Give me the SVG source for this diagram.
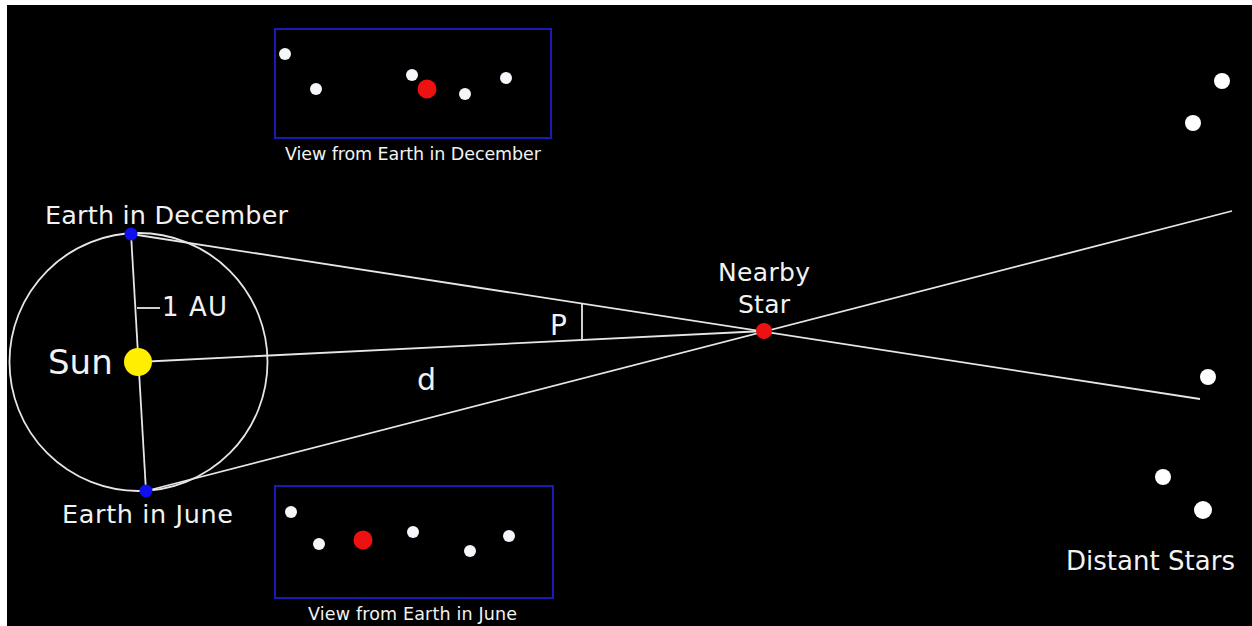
<svg xmlns="http://www.w3.org/2000/svg" width="1252" height="626" viewBox="0 0 1252 626">
<style>
.t{font-family:"DejaVu Sans","Verdana",sans-serif;fill:#f2f2f2}
.ln{stroke:#e6e6e6;stroke-width:1.8;fill:none}
.box{fill:none;stroke:#1a1ab4;stroke-width:2}
.ws{fill:#f4f6fa}
.rs{fill:#ee1111}
.es{fill:#1010ee}
</style>
<rect x="0" y="0" width="1252" height="626" fill="#ffffff"/>
<rect x="7" y="5" width="1245" height="621" fill="#000000"/>
<g id="connectors">
<line class="ln" x1="131" y1="234" x2="1200" y2="399"/>
<line class="ln" x1="146" y1="491" x2="1232" y2="211"/>
<line class="ln" x1="138" y1="362" x2="764" y2="331"/>
<line class="ln" x1="131" y1="234" x2="146" y2="491"/>
<line class="ln" x1="137" y1="308" x2="160" y2="308"/>
<line class="ln" x1="582" y1="304" x2="582" y2="340"/>
</g>
<g id="orbit">
<circle class="ln" cx="138.5" cy="362" r="129"/>
</g>
<g id="sun">
<circle cx="138" cy="362" r="14" fill="#ffee00"/>
<text class="t" x="48" y="374" font-size="34">Sun</text>
</g>
<g id="earth-december">
<circle class="es" cx="131" cy="234" r="6.5"/>
<text class="t" x="45" y="224" font-size="25.5" textLength="243" lengthAdjust="spacing">Earth in December</text>
</g>
<g id="earth-june">
<circle class="es" cx="146" cy="491" r="6.5"/>
<text class="t" x="62" y="523" font-size="25.5" textLength="171" lengthAdjust="spacing">Earth in June</text>
</g>
<g id="labels">
<text class="t" x="162" y="316" font-size="26" textLength="65" lengthAdjust="spacing">1 AU</text>
<text class="t" x="550" y="335" font-size="28">P</text>
<text class="t" x="417" y="390" font-size="30">d</text>
</g>
<g id="nearby-star">
<circle class="rs" cx="764" cy="331" r="8"/>
<text class="t" x="718" y="281" font-size="25" textLength="92" lengthAdjust="spacing">Nearby</text>
<text class="t" x="738" y="313" font-size="25" textLength="52" lengthAdjust="spacing">Star</text>
</g>
<g id="view-december">
<rect class="box" x="275" y="29" width="276" height="109"/>
<circle class="ws" cx="285" cy="54" r="6"/>
<circle class="ws" cx="316" cy="89" r="6"/>
<circle class="ws" cx="412" cy="75" r="6"/>
<circle class="rs" cx="427" cy="89" r="9.5"/>
<circle class="ws" cx="465" cy="94" r="6"/>
<circle class="ws" cx="506" cy="78" r="6"/>
<text class="t" x="285" y="160" font-size="17.5" textLength="256" lengthAdjust="spacing">View from Earth in December</text>
</g>
<g id="view-june">
<rect class="box" x="275" y="486" width="278" height="112"/>
<circle class="ws" cx="291" cy="512" r="6"/>
<circle class="ws" cx="319" cy="544" r="6"/>
<circle class="rs" cx="363" cy="540" r="9.5"/>
<circle class="ws" cx="413" cy="532" r="6"/>
<circle class="ws" cx="470" cy="551" r="6"/>
<circle class="ws" cx="509" cy="536" r="6"/>
<text class="t" x="308" y="620" font-size="17.5" textLength="209" lengthAdjust="spacing">View from Earth in June</text>
</g>
<g id="distant-stars">
<circle cx="1222" cy="81" r="8" fill="#ffffff"/>
<circle cx="1193" cy="123" r="8" fill="#ffffff"/>
<circle cx="1208" cy="377" r="8" fill="#ffffff"/>
<circle cx="1163" cy="477" r="8" fill="#ffffff"/>
<circle cx="1203" cy="510" r="9" fill="#ffffff"/>
<text class="t" x="1066" y="570" font-size="26" textLength="169" lengthAdjust="spacing">Distant Stars</text>
</g>
</svg>
